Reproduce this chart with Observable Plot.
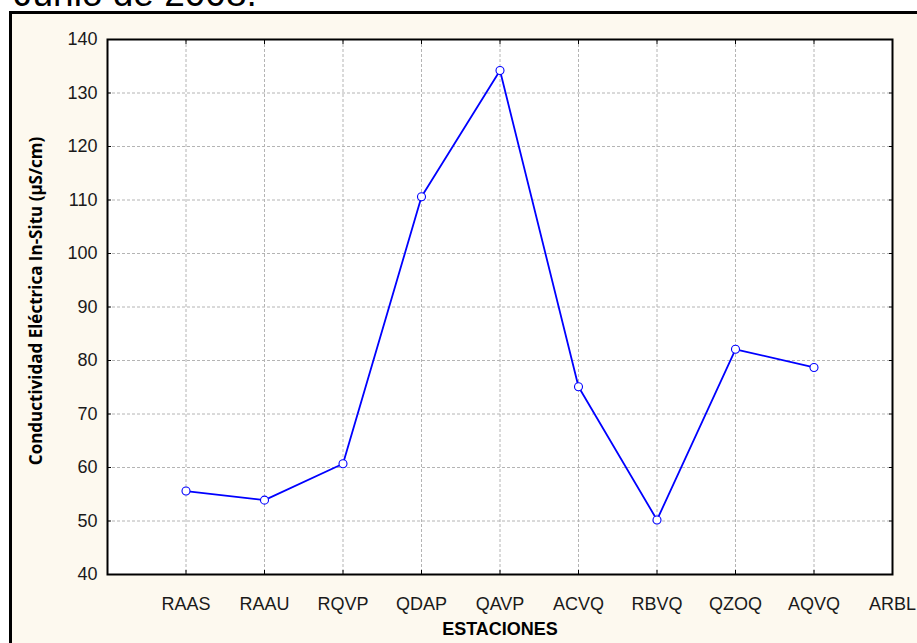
<!DOCTYPE html>
<html>
<head>
<meta charset="utf-8">
<script src="https://cdn.jsdelivr.net/npm/d3@7"></script>
<script src="https://cdn.jsdelivr.net/npm/@observablehq/plot@0.6"></script>
<style>
  html, body { margin: 0; padding: 0; background: #fff; width: 917px; height: 643px; overflow: hidden; }
  #title { position: absolute; left: 14px; top: -25px; font: 37px "Liberation Sans", Arial, sans-serif; line-height: 1; color: #000; white-space: nowrap; }
  #panel { position: absolute; left: 9px; top: 11px; right: -10px; bottom: -10px; background: #fdf9ef; border-left: 3px solid #000; border-top: 3px solid #000; }
  #chart { position: absolute; left: 0; top: 0; }
</style>
</head>
<body>
<div id="title">Junio de 2008.</div>
<div id="panel"></div>
<div id="chart"></div>
<script>
// Sampling stations along the x axis (ARBL has no reading)
const stations = ["RAAS", "RAAU", "RQVP", "QDAP", "QAVP", "ACVQ", "RBVQ", "QZOQ", "AQVQ", "ARBL"];
// In-situ electrical conductivity (µS/cm) per station
const conductivity = [55.6, 53.9, 60.7, 110.6, 134.2, 75.1, 50.2, 82.1, 78.7];
// Y-axis tick values
const yTicks = [40, 50, 60, 70, 80, 90, 100, 110, 120, 130, 140];

const yTitle = "Conductividad Eléctrica In-Situ (µS/cm)";
const xTitle = "ESTACIONES";

const positions = stations.map((_, i) => i + 1);
const readings = conductivity.map((v, i) => ({station: stations[i], pos: i + 1, value: v}));

const font = '"Liberation Sans", Arial, sans-serif';
const gridStyle = {stroke: "#b4b4b4", strokeOpacity: 1, strokeDasharray: "3,2", strokeWidth: 1};
const blank = () => "";

const chart = Plot.plot({
  width: 917,
  height: 643,
  marginLeft: 107,
  marginRight: 25,
  marginTop: 39,
  marginBottom: 69,
  style: {background: "transparent", fontFamily: font, color: "#1a1a1a", overflow: "visible"},
  x: {type: "linear", domain: [0, 10]},
  y: {type: "linear", domain: [40, 140]},
  marks: [
    Plot.frame({fill: "white"}),
    Plot.gridY(yTicks.slice(1, -1), gridStyle),
    Plot.gridX(positions.slice(0, -1), gridStyle),
    // inward tick marks on all four sides
    Plot.axisX(positions, {anchor: "bottom", tickSize: 4, dy: -4, tickFormat: blank, label: null, stroke: "#000"}),
    Plot.axisX(positions, {anchor: "top", tickSize: 4, dy: 4, tickFormat: blank, label: null, stroke: "#000"}),
    Plot.axisY(yTicks, {anchor: "left", tickSize: 4, dx: 4, tickFormat: blank, label: null, stroke: "#000"}),
    Plot.axisY(yTicks, {anchor: "right", tickSize: 4, dx: -4, tickFormat: blank, label: null, stroke: "#000"}),
    // tick labels
    Plot.axisX(positions, {anchor: "bottom", tickSize: 0, tickPadding: 23, fontSize: 18, tickFormat: d => stations[d - 1], label: null}),
    Plot.axisY(yTicks, {anchor: "left", tickSize: 0, tickPadding: 10, fontSize: 18, label: null}),
    // conductivity series
    Plot.line(readings, {x: "pos", y: "value", stroke: "#0000ff", strokeWidth: 1.8}),
    Plot.dot(readings, {x: "pos", y: "value", r: 4, fill: "white", stroke: "#0000ff", strokeWidth: 1.1}),
    Plot.frame({stroke: "#000", strokeWidth: 2}),
    // axis titles
    Plot.text([yTitle], {frameAnchor: "left", dx: -71, dy: -6, rotate: -90, textAnchor: "middle", lineAnchor: "middle",
      fontWeight: "bold", fontSize: 17, fontFamily: '"Open Sans", sans-serif', fill: "#000"}),
    Plot.text([xTitle], {frameAnchor: "bottom", dy: 55, textAnchor: "middle", lineAnchor: "middle",
      fontWeight: "bold", fontSize: 18, fill: "#000"})
  ]
});

document.getElementById("chart").appendChild(chart);
</script>
</body>
</html>
